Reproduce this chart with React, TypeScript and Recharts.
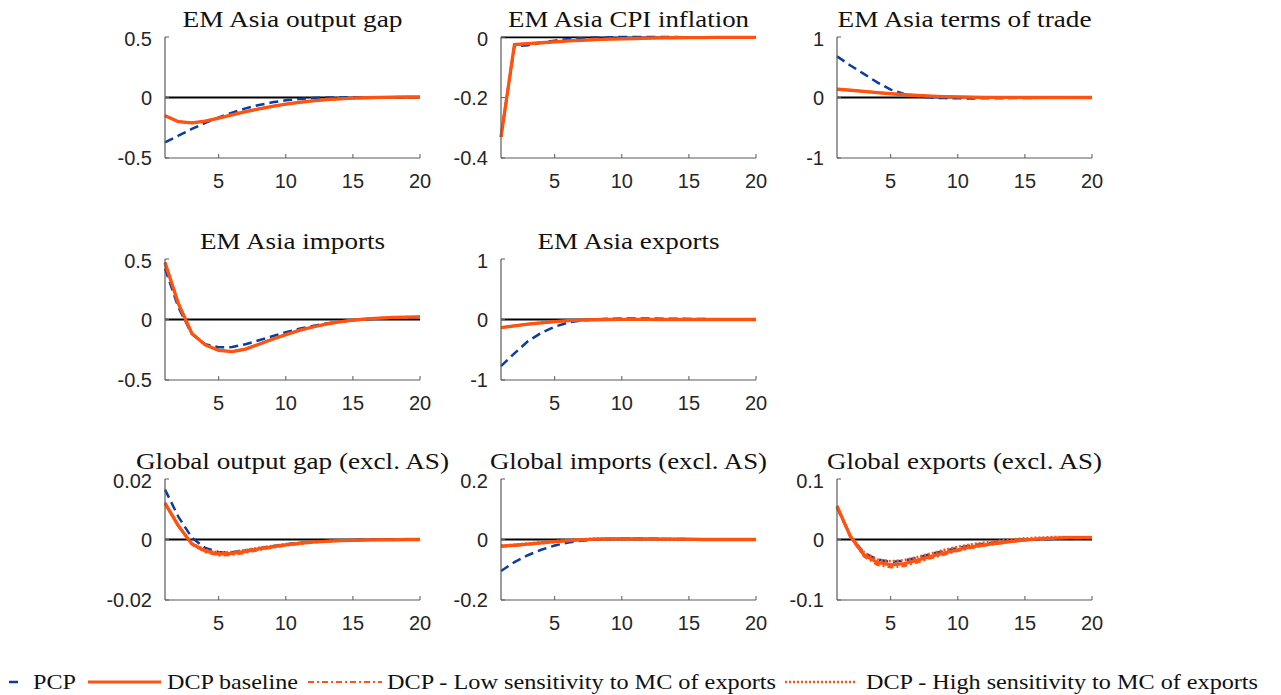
import React from 'react';
import { LineChart, Line, XAxis, YAxis, ReferenceLine } from 'recharts';

// horizon (quarters)
const periods = [1, 2, 3, 4, 5, 6, 7, 8, 9, 10, 11, 12, 13, 14, 15, 16, 17, 18, 19, 20];
const xTicks = [5, 10, 15, 20];

// EM Asia output gap
const outGapPcp = [-0.37, -0.315, -0.26, -0.21, -0.165, -0.125, -0.09, -0.062, -0.04, -0.023, -0.012, -0.005, -0.001, 0.001, 0.002, 0.002, 0.002, 0.001, 0.001, 0.001];
const outGapDcp = [-0.15, -0.2, -0.21, -0.195, -0.17, -0.143, -0.117, -0.094, -0.073, -0.055, -0.04, -0.028, -0.018, -0.011, -0.006, -0.002, 0.001, 0.003, 0.004, 0.004];

// EM Asia CPI inflation
const cpiPcp = [-0.33, -0.03, -0.026, -0.018, -0.011, -0.006, -0.003, -0.001, 0, 0.001, 0.001, 0.001, 0.001, 0.001, 0, 0, 0, 0, 0, 0];
const cpiDcp = [-0.33, -0.024, -0.021, -0.018, -0.015, -0.012, -0.01, -0.008, -0.006, -0.005, -0.004, -0.003, -0.002, -0.0015, -0.001, -0.001, 0, 0, 0, 0];

// EM Asia terms of trade
const totPcp = [0.68, 0.53, 0.39, 0.25, 0.13, 0.06, 0.02, -0.002, -0.01, -0.014, -0.015, -0.014, -0.012, -0.01, -0.008, -0.006, -0.005, -0.004, -0.003, -0.002];
const totDcp = [0.14, 0.12, 0.1, 0.08, 0.062, 0.046, 0.033, 0.023, 0.015, 0.01, 0.006, 0.003, 0.002, 0.001, 0, 0, 0, 0, 0, 0];

// EM Asia imports
const impPcp = [0.42, 0.1, -0.12, -0.205, -0.23, -0.228, -0.205, -0.172, -0.138, -0.105, -0.077, -0.053, -0.033, -0.018, -0.007, 0.002, 0.008, 0.012, 0.014, 0.015];
const impDcp = [0.47, 0.13, -0.115, -0.21, -0.255, -0.265, -0.245, -0.205, -0.163, -0.125, -0.09, -0.062, -0.038, -0.02, -0.006, 0.005, 0.012, 0.017, 0.02, 0.022];

// EM Asia exports
const expPcp = [-0.77, -0.56, -0.36, -0.22, -0.12, -0.05, -0.015, 0.003, 0.012, 0.016, 0.017, 0.016, 0.014, 0.012, 0.01, 0.007, 0.005, 0.003, 0.002, 0.001];
const expDcp = [-0.135, -0.105, -0.078, -0.055, -0.035, -0.02, -0.01, -0.004, 0, 0.001, 0.001, 0.001, 0, 0, 0, 0, 0, 0, 0, 0];

// Global output gap (excl. AS)
const gGapPcp = [0.0165, 0.0075, 0.0006, -0.0028, -0.0042, -0.0042, -0.0036, -0.0029, -0.0022, -0.0016, -0.0011, -0.0008, -0.0005, -0.0003, -0.0002, -0.0001, 0, 0, 0, 0];
const gGapDcp = [0.012, 0.0045, -0.0015, -0.0038, -0.0048, -0.0046, -0.0039, -0.0031, -0.0024, -0.0018, -0.0013, -0.0009, -0.0006, -0.0004, -0.0003, -0.0002, -0.0001, -0.0001, 0, 0];
const gGapLow = [0.0122, 0.0047, -0.0016, -0.0042, -0.0053, -0.0051, -0.0044, -0.0035, -0.0027, -0.002, -0.0015, -0.001, -0.0007, -0.0005, -0.0003, -0.0002, -0.0001, -0.0001, 0, 0];
const gGapHigh = [0.0118, 0.0043, -0.0013, -0.0034, -0.0043, -0.0041, -0.0035, -0.0027, -0.0021, -0.0015, -0.0011, -0.0007, -0.0005, -0.0003, -0.0002, -0.0001, -0.0001, 0, 0, 0];

// Global imports (excl. AS)
const gImpPcp = [-0.104, -0.075, -0.052, -0.034, -0.02, -0.01, -0.004, 0, 0.002, 0.003, 0.003, 0.003, 0.002, 0.002, 0.001, 0.001, 0, 0, 0, 0];
const gImpDcp = [-0.022, -0.019, -0.015, -0.011, -0.007, -0.004, -0.001, 0.001, 0.002, 0.002, 0.002, 0.002, 0.001, 0.001, 0.001, 0, 0, 0, 0, 0];
const gImpLow = [-0.024, -0.021, -0.017, -0.013, -0.009, -0.005, -0.002, 0, 0.001, 0.001, 0.001, 0.001, 0.001, 0.001, 0, 0, 0, 0, 0, 0];
const gImpHigh = [-0.02, -0.017, -0.013, -0.009, -0.005, -0.002, 0.001, 0.003, 0.004, 0.004, 0.004, 0.003, 0.003, 0.002, 0.001, 0.001, 0, 0, 0, 0];

// Global exports (excl. AS)
const gExpPcp = [0.053, 0.005, -0.022, -0.033, -0.037, -0.035, -0.03, -0.024, -0.019, -0.014, -0.01, -0.007, -0.004, -0.002, -0.001, 0, 0.001, 0.002, 0.002, 0.002];
const gExpDcp = [0.055, 0.005, -0.025, -0.038, -0.042, -0.04, -0.034, -0.028, -0.022, -0.017, -0.012, -0.009, -0.006, -0.003, -0.001, 0.001, 0.002, 0.003, 0.003, 0.003];
const gExpLow = [0.056, 0.004, -0.028, -0.042, -0.046, -0.044, -0.038, -0.031, -0.025, -0.019, -0.014, -0.01, -0.007, -0.004, -0.001, 0.001, 0.002, 0.003, 0.003, 0.003];
const gExpHigh = [0.054, 0.006, -0.021, -0.033, -0.036, -0.034, -0.029, -0.023, -0.017, -0.012, -0.008, -0.005, -0.002, 0, 0.002, 0.003, 0.004, 0.004, 0.004, 0.004];

const PCP_COLOR = '#0b3d9e';
const DCP_COLOR = '#ff5311';
const AXIS_COLOR = '#5a5a5a';
const TICK_FONT = { fontSize: 20, fill: '#262626', fontFamily: '"Liberation Sans", Arial, sans-serif' };
const SERIF = '"Liberation Serif", "Times New Roman", serif';

const PLOT_W = 255;
const PLOT_H = 121;
const Y_AXIS_W = 60;

interface PanelProps {
	title: string;
	titleWidth: number;
	left: number;
	top: number;
	domain: [number, number];
	yTicks: number[];
	pcp: number[];
	dcp: number[];
	low: number[];
	high: number[];
}

function Panel({ left, top, domain, yTicks, pcp, dcp, low, high }: PanelProps) {
	const data = periods.map((p, i) => ({ p, pcp: pcp[i], dcp: dcp[i], low: low[i], high: high[i] }));
	return (
		<div style={{ position: 'absolute', left: left - Y_AXIS_W, top: top - 10 }}>
			<LineChart width={Y_AXIS_W + PLOT_W + 12} height={PLOT_H + 50} data={data} margin={{ top: 10, right: 12, left: 0, bottom: 0 }}>
				<XAxis
					dataKey="p"
					type="number"
					domain={[1, 20]}
					ticks={xTicks}
					height={40}
					tickSize={-4}
					tickMargin={20}
					axisLine={{ stroke: AXIS_COLOR, strokeWidth: 1.2 }}
					tickLine={{ stroke: AXIS_COLOR }}
					tick={TICK_FONT}
				/>
				<YAxis
					type="number"
					domain={domain}
					ticks={yTicks}
					width={Y_AXIS_W}
					tickSize={-4}
					tickMargin={17}
					axisLine={{ stroke: AXIS_COLOR, strokeWidth: 1.2 }}
					tickLine={{ stroke: AXIS_COLOR }}
					tick={TICK_FONT}
					tickFormatter={(v) => String(v)}
				/>
				<ReferenceLine y={0} stroke="#000" strokeWidth={1.8} />
				<Line dataKey="pcp" type="linear" stroke={PCP_COLOR} strokeWidth={2.5} strokeDasharray="9 5" dot={false} isAnimationActive={false} />
				<Line dataKey="dcp" type="linear" stroke={DCP_COLOR} strokeWidth={3.3} dot={false} isAnimationActive={false} />
				<Line dataKey="low" type="linear" stroke={DCP_COLOR} strokeWidth={2.2} strokeDasharray="6 3 2 3" dot={false} isAnimationActive={false} />
				<Line dataKey="high" type="linear" stroke={DCP_COLOR} strokeWidth={2.5} strokeDasharray="2 2" dot={false} isAnimationActive={false} />
			</LineChart>
		</div>
	);
}

const colLeft = [165, 501, 837];
const rowTop = [37, 259, 479];

const panels: PanelProps[] = [
	{ title: 'EM Asia output gap', titleWidth: 220, left: colLeft[0], top: rowTop[0], domain: [-0.5, 0.5], yTicks: [-0.5, 0, 0.5], pcp: outGapPcp, dcp: outGapDcp, low: outGapDcp, high: outGapDcp },
	{ title: 'EM Asia CPI inflation', titleWidth: 241, left: colLeft[1], top: rowTop[0], domain: [-0.4, 0], yTicks: [-0.4, -0.2, 0], pcp: cpiPcp, dcp: cpiDcp, low: cpiDcp, high: cpiDcp },
	{ title: 'EM Asia terms of trade', titleWidth: 254, left: colLeft[2], top: rowTop[0], domain: [-1, 1], yTicks: [-1, 0, 1], pcp: totPcp, dcp: totDcp, low: totDcp, high: totDcp },
	{ title: 'EM Asia imports', titleWidth: 185, left: colLeft[0], top: rowTop[1], domain: [-0.5, 0.5], yTicks: [-0.5, 0, 0.5], pcp: impPcp, dcp: impDcp, low: impDcp, high: impDcp },
	{ title: 'EM Asia exports', titleWidth: 182, left: colLeft[1], top: rowTop[1], domain: [-1, 1], yTicks: [-1, 0, 1], pcp: expPcp, dcp: expDcp, low: expDcp, high: expDcp },
	{ title: 'Global output gap (excl. AS)', titleWidth: 313, left: colLeft[0], top: rowTop[2], domain: [-0.02, 0.02], yTicks: [-0.02, 0, 0.02], pcp: gGapPcp, dcp: gGapDcp, low: gGapLow, high: gGapHigh },
	{ title: 'Global imports (excl. AS)', titleWidth: 277, left: colLeft[1], top: rowTop[2], domain: [-0.2, 0.2], yTicks: [-0.2, 0, 0.2], pcp: gImpPcp, dcp: gImpDcp, low: gImpLow, high: gImpHigh },
	{ title: 'Global exports (excl. AS)', titleWidth: 275, left: colLeft[2], top: rowTop[2], domain: [-0.1, 0.1], yTicks: [-0.1, 0, 0.1], pcp: gExpPcp, dcp: gExpDcp, low: gExpLow, high: gExpHigh },
];

const legendItems = [
	{ label: 'PCP', x1: 9, x2: 18, textX: 33, textW: 43, color: PCP_COLOR, width: 2.5, dash: undefined },
	{ label: 'DCP baseline', x1: 88, x2: 161, textX: 167, textW: 131, color: DCP_COLOR, width: 3, dash: undefined },
	{ label: 'DCP - Low sensitivity to MC of exports', x1: 308, x2: 382, textX: 387, textW: 389, color: DCP_COLOR, width: 2, dash: '6 3 2 3' },
	{ label: 'DCP - High sensitivity to MC of exports', x1: 785, x2: 856, textX: 866, textW: 392, color: DCP_COLOR, width: 2.5, dash: '2 2' },
];

export default function App() {
	return (
		<div style={{ position: 'absolute', left: 0, top: 0, width: 1281, height: 695, background: '#fff', overflow: 'hidden' }}>
			{panels.map((p) => (
				<Panel key={p.title} {...p} />
			))}
			<svg width={1281} height={695} style={{ position: 'absolute', left: 0, top: 0, pointerEvents: 'none' }}>
				{panels.map((p) => (
					<text
						key={p.title}
						x={p.left + PLOT_W / 2}
						y={p.top - 10}
						textAnchor="middle"
						fontFamily={SERIF}
						fontSize={24}
						fill="#111"
						textLength={p.titleWidth}
						lengthAdjust="spacingAndGlyphs"
					>
						{p.title}
					</text>
				))}
				{legendItems.map((it) => (
					<g key={it.label}>
						<line x1={it.x1} x2={it.x2} y1={682} y2={682} stroke={it.color} strokeWidth={it.width} strokeDasharray={it.dash} />
						<text x={it.textX} y={689} fontFamily={SERIF} fontSize={21} fill="#111" textLength={it.textW} lengthAdjust="spacingAndGlyphs">
							{it.label}
						</text>
					</g>
				))}
			</svg>
		</div>
	);
}
